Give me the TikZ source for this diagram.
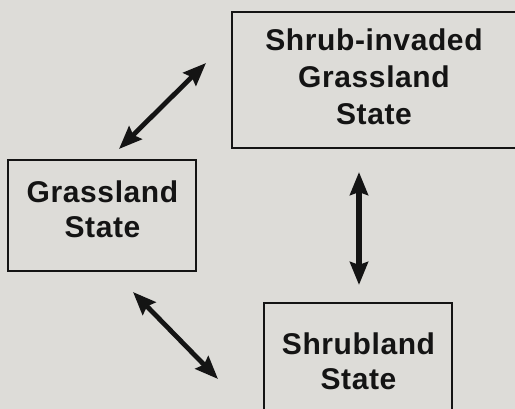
\documentclass[tikz,border=0pt]{standalone}
\usepackage{fontspec}
\setmainfont{Liberation Sans}[LetterSpace=2]
\usetikzlibrary{arrows.meta}
\definecolor{bg}{RGB}{221,220,216}
\definecolor{ink}{RGB}{20,20,20}
\begin{document}
\begin{tikzpicture}[x=1pt,y=-1pt,
  statebox/.style={draw=ink, line width=2.2pt, fill=none, inner sep=0pt},
  lbl/.style={font=\fontsize{30}{35}\selectfont\bfseries, align=center, inner sep=0pt, text=ink},
  dbl/.style={{Stealth[length=23pt,width=18pt,inset=3pt]}-{Stealth[length=23pt,width=18pt,inset=3pt]}, line width=4.8pt, draw=ink}]
\fill[bg] (0,0) rectangle (515,409);
\useasboundingbox (0,0) rectangle (515,409);
% boxes
\node[statebox, minimum width=310pt, minimum height=136pt] (sig) at (387,80) {};
\node[statebox, minimum width=188pt, minimum height=111pt] (gs) at (102,215.5) {};
\node[statebox, minimum width=188pt, minimum height=140pt] (ss) at (358,373) {};
% labels
\node[lbl, font=\fontsize{30}{37}\selectfont\bfseries] (sigt) at (374,76.8) {Shrub-invaded\\Grassland\\State};
\node[lbl] (gst) at (102.5,209.3) {Grassland\\State};
\node[lbl] (sst) at (358.5,360.8) {Shrubland\\State};
% arrow end points
\coordinate (a1s) at (119,149);
\coordinate (a1e) at (206,63);
\coordinate (a2s) at (359,172);
\coordinate (a2e) at (359,285);
\coordinate (a3s) at (133,292);
\coordinate (a3e) at (218,379);
\draw[dbl] (a1s) -- (a1e);
\draw[dbl, line width=6.5pt] (a2s) -- (a2e);
\draw[dbl] (a3s) -- (a3e);
\end{tikzpicture}
\end{document}
